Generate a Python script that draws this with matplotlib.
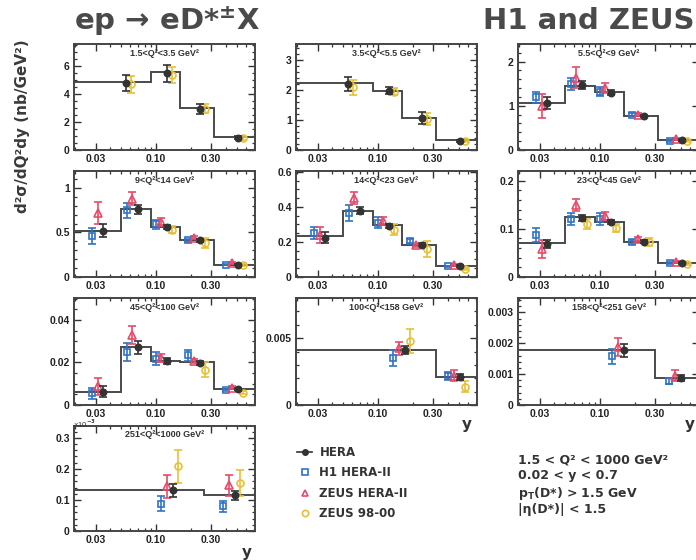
import numpy as np
import matplotlib
matplotlib.use("Agg")
import matplotlib.pyplot as plt
from matplotlib.lines import Line2D
from matplotlib.ticker import FixedLocator, NullFormatter, FuncFormatter, AutoMinorLocator

plt.rcParams['font.family'] = ['Liberation Sans', 'DejaVu Sans']
plt.rcParams['font.weight'] = 'bold'
plt.rcParams['mathtext.fontset'] = 'dejavusans'
plt.rcParams['mathtext.default'] = 'bf'

nan = np.nan

# Q2 ranges of the ten panels
q2_labels = ["1.5<Q²<3.5 GeV²", "3.5<Q²<5.5 GeV²", "5.5<Q²<9 GeV²",
             "9<Q²<14 GeV²", "14<Q²<23 GeV²", "23<Q²<45 GeV²",
             "45<Q²<100 GeV²", "100<Q²<158 GeV²", "158<Q²<251 GeV²",
             "251<Q²<1000 GeV²"]

# y bin edges per panel
y_edges = [[0.02, 0.09, 0.16, 0.32, 0.7],
           [0.02, 0.09, 0.16, 0.32, 0.7],
           [0.02, 0.05, 0.09, 0.16, 0.32, 0.7],
           [0.02, 0.05, 0.09, 0.16, 0.32, 0.7],
           [0.02, 0.05, 0.09, 0.16, 0.32, 0.7],
           [0.02, 0.05, 0.09, 0.16, 0.32, 0.7],
           [0.02, 0.05, 0.09, 0.16, 0.32, 0.7],
           [0.02, 0.32, 0.7],
           [0.02, 0.3, 0.7],
           [0.02, 0.26, 0.7]]

# prediction (histogram)
theory = [[4.85, 5.6, 3.0, 0.9],
          [2.24, 1.99, 1.06, 0.32],
          [1.07, 1.45, 1.32, 0.76, 0.22],
          [0.52, 0.76, 0.56, 0.41, 0.14],
          [0.232, 0.377, 0.295, 0.185, 0.063],
          [0.07, 0.124, 0.115, 0.073, 0.03],
          [0.0063, 0.0272, 0.0206, 0.0201, 0.0076],
          [0.0041, 0.00208],
          [0.00179, 0.00089],
          [0.131e-3, 0.115e-3]]

# HERA combined points
hera_x = [[0.055, 0.125, 0.24, 0.51],
          [0.055, 0.125, 0.24, 0.51],
          [0.035, 0.07, 0.125, 0.24, 0.51],
          [0.035, 0.07, 0.125, 0.24, 0.51],
          [0.035, 0.07, 0.125, 0.24, 0.51],
          [0.035, 0.07, 0.125, 0.24, 0.51],
          [0.035, 0.07, 0.125, 0.24, 0.51],
          [0.17, 0.51],
          [0.16, 0.5],
          [0.14, 0.48]]
hera_y = [[4.8, 5.5, 2.95, 0.88],
          [2.21, 1.99, 1.06, 0.3],
          [1.06, 1.47, 1.3, 0.77, 0.23],
          [0.52, 0.76, 0.56, 0.41, 0.14],
          [0.225, 0.377, 0.29, 0.185, 0.063],
          [0.0685, 0.123, 0.114, 0.073, 0.03],
          [0.0063, 0.0272, 0.0206, 0.0198, 0.0076],
          [0.0041, 0.0021],
          [0.00177, 0.00088],
          [0.131e-3, 0.115e-3]]
hera_err = [[0.6, 0.6, 0.35, 0.12],
            [0.25, 0.12, 0.2, 0.03],
            [0.13, 0.1, 0.06, 0.03, 0.02],
            [0.07, 0.05, 0.02, 0.02, 0.01],
            [0.03, 0.02, 0.01, 0.01, 0.005],
            [0.008, 0.006, 0.004, 0.003, 0.002],
            [0.0025, 0.003, 0.0015, 0.001, 0.0005],
            [0.0003, 0.0002],
            [0.0002, 0.0001],
            [0.02e-3, 0.014e-3]]

# H1 HERA-II
h1_y = [[nan] * 4, [nan] * 4,
        [1.19, 1.49, 1.32, 0.8, 0.21],
        [0.46, 0.75, 0.59, 0.41, 0.14],
        [0.25, 0.366, 0.31, 0.205, 0.06],
        [0.087, 0.12, 0.12, 0.073, 0.029],
        [0.0055, 0.025, 0.0217, 0.0234, 0.0071],
        [0.00348, 0.0022],
        [0.00158, 0.00078],
        [0.088e-3, 0.079e-3]]
h1_err = [[nan] * 4, [nan] * 4,
          [0.13, 0.13, 0.1, 0.04, 0.02],
          [0.085, 0.085, 0.05, 0.02, 0.01],
          [0.035, 0.045, 0.03, 0.01, 0.005],
          [0.015, 0.013, 0.013, 0.004, 0.002],
          [0.0027, 0.0043, 0.003, 0.0025, 0.0006],
          [0.0006, 0.0003],
          [0.00025, 0.0001],
          [0.025e-3, 0.017e-3]]

# ZEUS HERA-II
zeus2_y = [[nan] * 4, [nan] * 4,
           [0.99, 1.64, 1.4, 0.8, 0.25],
           [0.72, 0.88, 0.62, 0.44, 0.16],
           [0.24, 0.45, 0.32, 0.18, 0.067],
           [0.058, 0.149, 0.126, 0.078, 0.031],
           [0.0087, 0.033, 0.022, 0.0206, 0.0082],
           [0.00424, 0.0022],
           [0.00188, 0.00095],
           [0.144e-3, 0.147e-3]]
zeus2_err = [[nan] * 4, [nan] * 4,
             [0.27, 0.24, 0.12, 0.04, 0.03],
             [0.125, 0.07, 0.04, 0.015, 0.01],
             [0.045, 0.035, 0.02, 0.01, 0.005],
             [0.019, 0.012, 0.008, 0.004, 0.002],
             [0.004, 0.0042, 0.002, 0.001, 0.0006],
             [0.0005, 0.0004],
             [0.0003, 0.00018],
             [0.037e-3, 0.034e-3]]

# ZEUS 98-00
zeus98_y = [[4.7, 5.38, 2.97, 0.85],
            [2.1, 1.95, 1.05, 0.3],
            [nan, nan, nan, nan, 0.2],
            [nan, nan, 0.53, 0.38, 0.135],
            [nan, nan, 0.27, 0.16, 0.048],
            [nan, 0.11, 0.102, 0.073, 0.027],
            [nan, nan, nan, 0.0166, 0.0058],
            [0.0048, 0.00137],
            [nan, nan],
            [0.209e-3, 0.154e-3]]
zeus98_err = [[0.6, 0.6, 0.33, 0.1],
              [0.25, 0.12, 0.2, 0.03],
              [nan, nan, nan, nan, 0.02],
              [nan, nan, 0.04, 0.06, 0.01],
              [nan, nan, 0.03, 0.045, 0.006],
              [nan, 0.01, 0.008, 0.008, 0.002],
              [nan, nan, nan, 0.0036, 0.0008],
              [0.0009, 0.0004],
              [nan, nan],
              [0.053e-3, 0.042e-3]]

y_max = [7.6, 3.55, 2.4, 1.19, 0.605, 0.22, 0.0503, 0.008, 0.00347, 0.338e-3]
y_ticks = [[0, 2, 4, 6], [0, 1, 2, 3], [0, 1, 2], [0, 0.5, 1], [0, 0.2, 0.4, 0.6],
           [0, 0.1, 0.2], [0, 0.02, 0.04], [0, 0.005], [0, 0.001, 0.002, 0.003],
           [0, 1e-4, 2e-4, 3e-4]]
x_ticks = [0.03, 0.1, 0.3]
x_tick_labels = ["0.03", "0.10", "0.30"]

W, H = 696, 560
col_left = [74, 296, 518]
rows = [(44, 150), (171, 277), (298, 405), (426, 531)]
ax_w = 181

c_hera = '#333333'
c_h1 = '#2f74c4'
c_z2 = '#e64a6a'
c_z98 = '#e6c038'
c_line = '#4a4a4a'

fig = plt.figure(figsize=(W / 100, H / 100), dpi=100)


def fpos(x, y):
    return x / W, 1 - y / H


def draw_series(ax, x, y, err, color, marker, ms, fill, z):
    x = np.array(x)
    y = np.array(y, dtype=float)
    err = np.array(err, dtype=float)
    ok = ~np.isnan(y)
    if not ok.any():
        return
    ax.errorbar(x[ok], y[ok], yerr=err[ok], fmt=marker, color=color, ms=ms,
                mfc=fill, mec=color, mew=1.2, elinewidth=1.2, capsize=2.6,
                capthick=1.2, zorder=z)


for i in range(10):
    if i < 9:
        r, c = divmod(i, 3)
    else:
        r, c = 3, 0
    top, bot = rows[r]
    x0, y0 = fpos(col_left[c], bot)
    ax = fig.add_axes([x0, y0, ax_w / W, (bot - top) / H])
    ax.set_xscale('log')
    ax.set_xlim(0.0195, 0.72)
    ax.set_ylim(0, y_max[i])

    ax.stairs(theory[i], y_edges[i], color=c_line, lw=1.4, baseline=None, zorder=2)

    hx = np.array(hera_x[i])
    draw_series(ax, hx * 10 ** -0.1, h1_y[i], h1_err[i], c_h1, 's', 5, 'none', 3)
    draw_series(ax, hx * 10 ** -0.05, zeus2_y[i], zeus2_err[i], c_z2, '^', 5.5, 'none', 3)
    draw_series(ax, hx * 10 ** 0.045, zeus98_y[i], zeus98_err[i], c_z98, 'o', 5, 'none', 3)
    draw_series(ax, hx, hera_y[i], hera_err[i], c_hera, 'o', 4.5, c_hera, 4)

    ax.xaxis.set_major_locator(FixedLocator(x_ticks))
    ax.set_xticklabels(x_tick_labels)
    minors = [0.02, 0.04, 0.05, 0.06, 0.07, 0.08, 0.09, 0.2, 0.4, 0.5, 0.6, 0.7]
    ax.xaxis.set_minor_locator(FixedLocator(minors))
    ax.xaxis.set_minor_formatter(NullFormatter())
    ax.yaxis.set_major_locator(FixedLocator(y_ticks[i]))
    ax.yaxis.set_minor_locator(AutoMinorLocator())
    if i == 9:
        ax.yaxis.set_major_formatter(FuncFormatter(lambda v, p: f"{v * 1e3:g}"))
    else:
        ax.yaxis.set_major_formatter(FuncFormatter(lambda v, p: f"{v:g}"))

    ax.tick_params(which='both', direction='in', top=True, right=True,
                   color='#333333', labelsize=7.5, labelcolor='#222222', pad=3)
    ax.tick_params(which='major', length=5, width=1)
    ax.tick_params(which='minor', length=2.5, width=0.9)
    for s in ax.spines.values():
        s.set_linewidth(1.4)
        s.set_color('#444444')

    ax.text(0.5, 0.915, q2_labels[i], transform=ax.transAxes, ha='center',
            va='center', fontsize=6.5, color='#333333')

# titles
fig.text(*fpos(74, 21), "ep → eD*$^{\\pm}$X", family='DejaVu Sans', fontsize=21,
         fontweight='bold', color='#4a4a4a', va='center', ha='left')
fig.text(*fpos(483, 21), "H1 and ZEUS", family='DejaVu Sans', fontsize=21,
         fontweight='bold', color='#4a4a4a', va='center', ha='left')
fig.text(*fpos(22, 126), "d²σ/dQ²dy (nb/GeV²)", family='DejaVu Sans', fontsize=11,
         fontweight='bold', color='#3a3a3a', rotation=90, va='center', ha='center')

for xp, yp in [(467, 425), (690, 425), (247, 552)]:
    fig.text(*fpos(xp, yp), "y", family='DejaVu Sans', fontsize=11,
             fontweight='bold', color='#333333', ha='center', va='center')

fig.text(*fpos(73, 424), "×10$^{-3}$", fontsize=5.5, color='#333333',
         fontweight='normal', ha='left', va='center')

# legend
handles = [Line2D([], [], color=c_hera, marker='o', ms=4, lw=1.2),
           Line2D([], [], color=c_h1, marker='s', ms=4.5, mfc='none', lw=0, mew=1.2),
           Line2D([], [], color=c_z2, marker='^', ms=5, mfc='none', lw=0, mew=1.2),
           Line2D([], [], color=c_z98, marker='o', ms=4.5, mfc='none', lw=0, mew=1.2)]
labels = ["HERA", "H1 HERA-II", "ZEUS HERA-II", "ZEUS 98-00"]
leg = fig.legend(handles, labels, loc='upper left', bbox_to_anchor=fpos(297, 446),
                 frameon=False, borderpad=0, borderaxespad=0, handlelength=1.3,
                 handletextpad=0.6, labelspacing=0.62,
                 prop=dict(family='DejaVu Sans', weight='bold', size=8.5))
for t in leg.get_texts():
    t.set_color('#333333')

cuts = ["1.5 < Q² < 1000 GeV²", "0.02 < y < 0.7", "p$_\\mathbf{T}$(D*) > 1.5 GeV",
        "|η(D*)| < 1.5"]
cut_y = [460, 475, 493, 509]
for txt, yp in zip(cuts, cut_y):
    fig.text(*fpos(518, yp), txt, family='DejaVu Sans', fontsize=9,
             fontweight='bold', color='#333333', ha='left', va='center')

fig.savefig("out.png", dpi=100)
